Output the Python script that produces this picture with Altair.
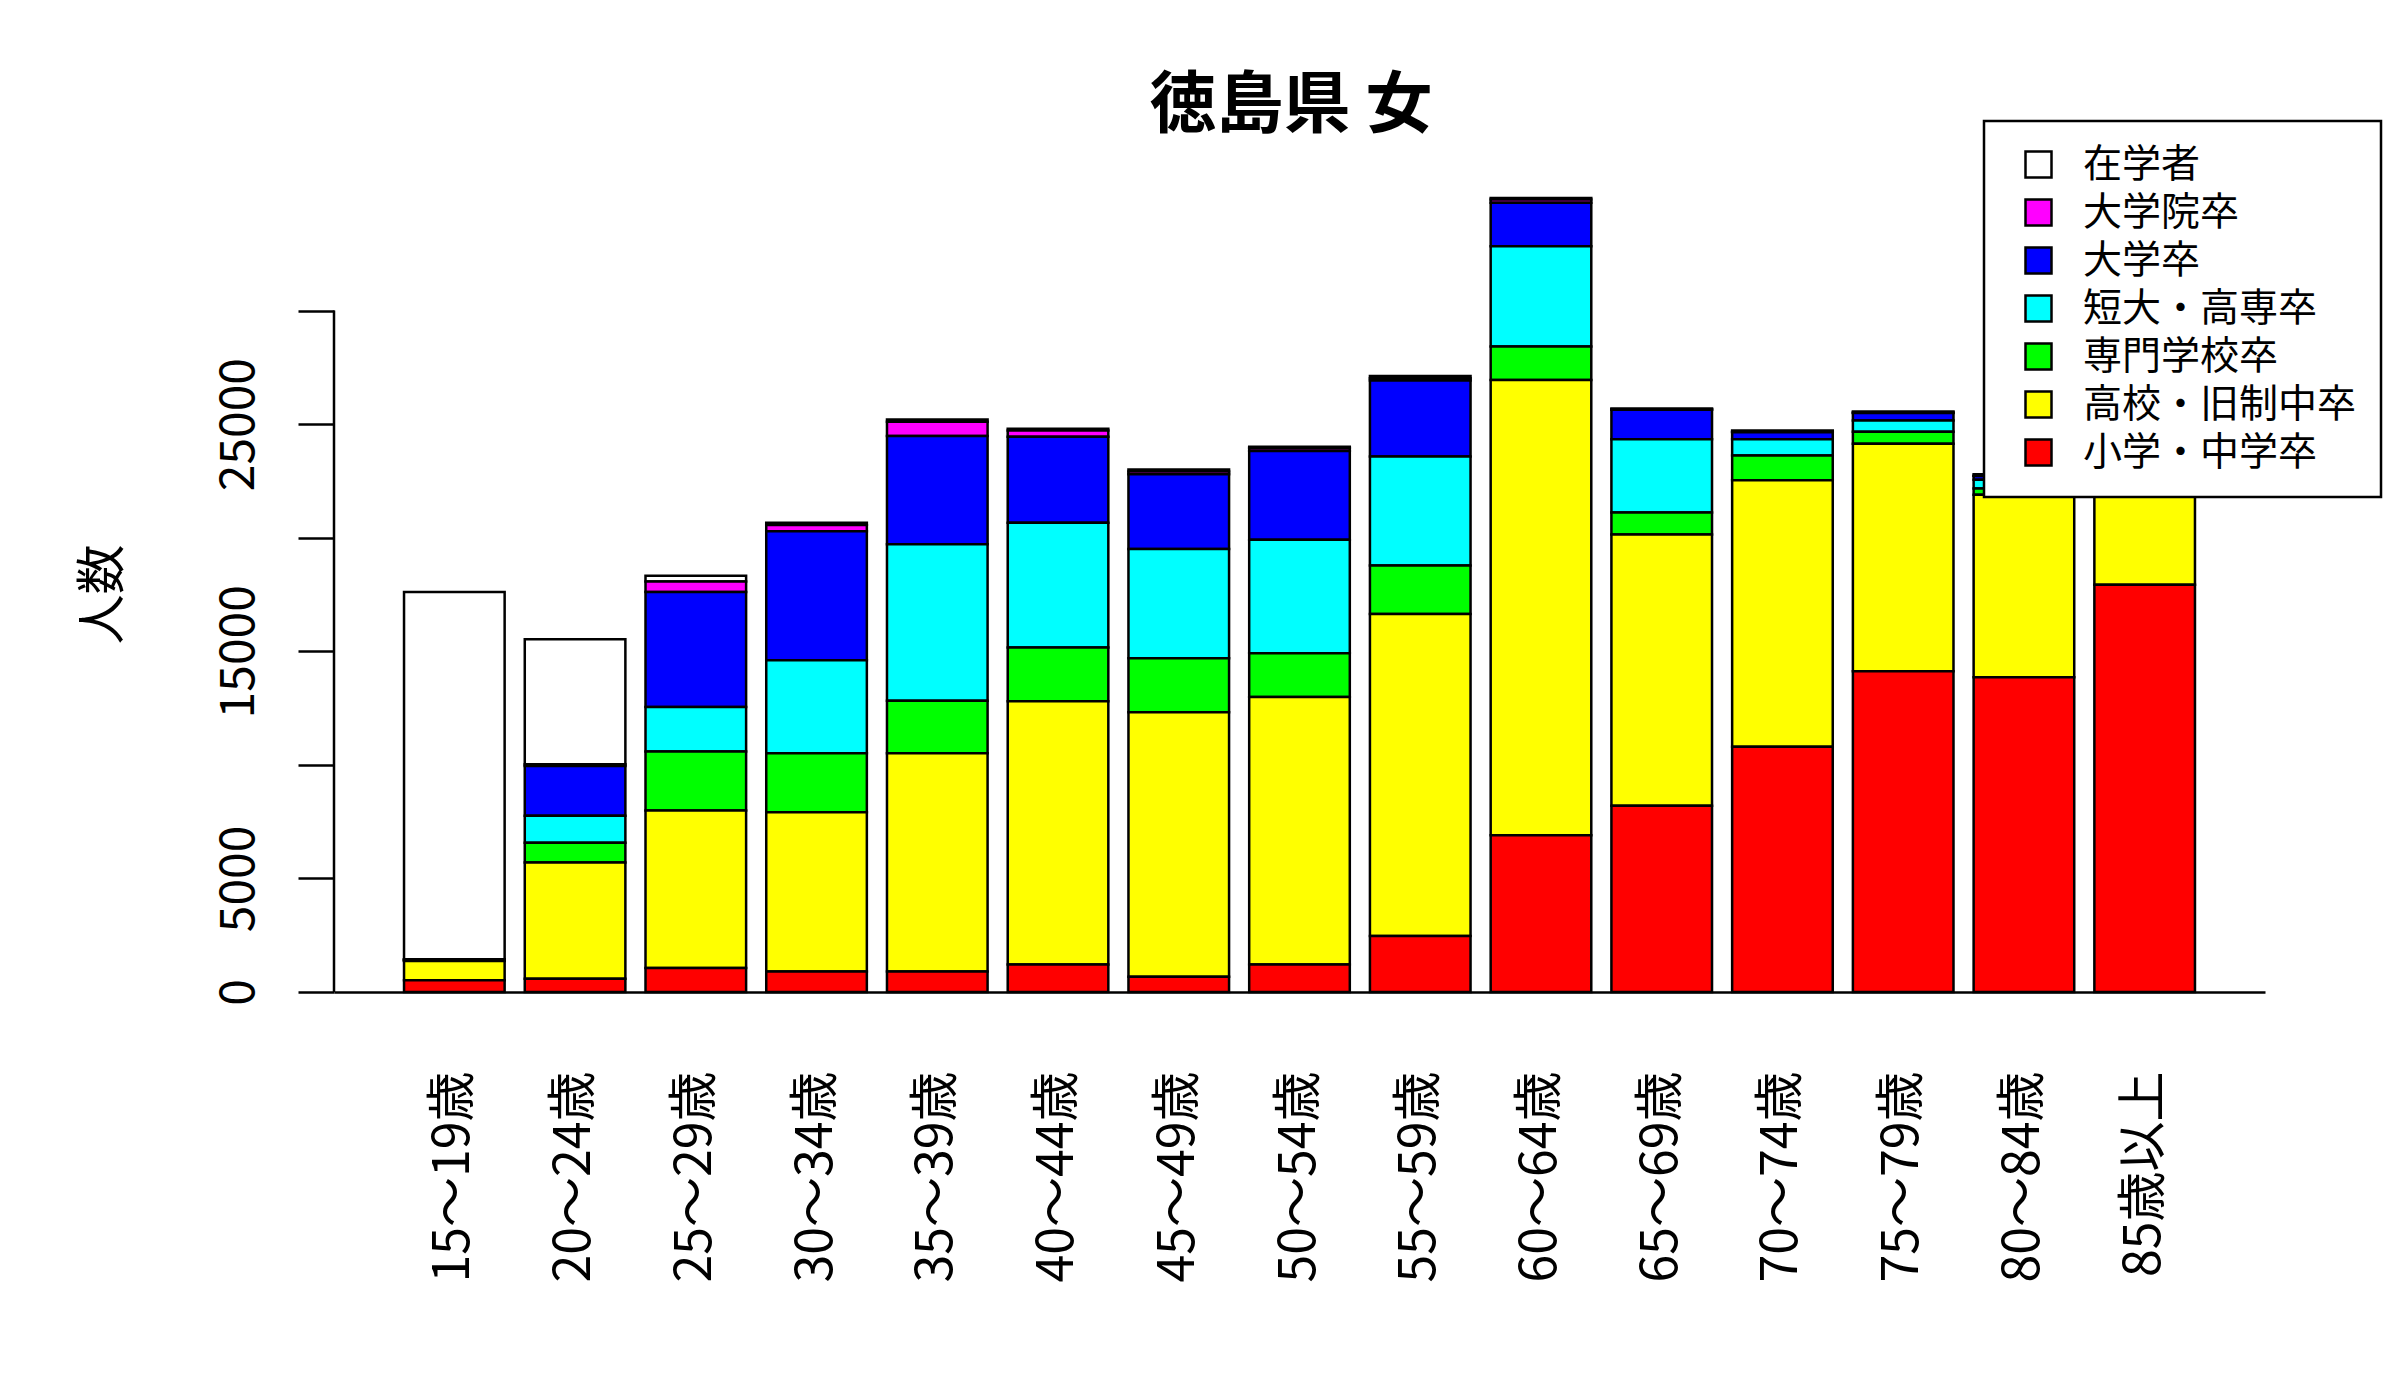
import altair as alt
import pandas as pd

FONT = "Noto Sans CJK JP"

chart_title = "徳島県 女"
y_title = "人数"

ages = ["15～19歳", "20～24歳", "25～29歳", "30～34歳", "35～39歳", "40～44歳",
        "45～49歳", "50～54歳", "55～59歳", "60～64歳", "65～69歳", "70～74歳",
        "75～79歳", "80～84歳", "85歳以上"]

series_names = ["在学者", "大学院卒", "大学卒", "短大・高専卒", "専門学校卒", "高校・旧制中卒", "小学・中学卒"]
series_colors = ["#FFFFFF", "#FF00FF", "#0000FF", "#00FFFF", "#00FF00", "#FFFF00", "#FF0000"]

zaigakusha = [16170, 5500, 250, 100, 100, 80, 80, 60, 100, 70, 30, 60, 50, 60, 0]
daigakuin = [5, 80, 460, 270, 620, 270, 130, 120, 100, 140, 30, 20, 20, 10, 10]
daigaku = [30, 2190, 5060, 5680, 4770, 3790, 3290, 3910, 3350, 1920, 1300, 310, 330, 170, 80]
tandai = [20, 1190, 1960, 4100, 6890, 5490, 4810, 5000, 4790, 4410, 3220, 710, 500, 380, 200]
senmon = [20, 870, 2600, 2600, 2310, 2370, 2370, 1920, 2140, 1480, 970, 1090, 520, 280, 150]
koukou = [850, 5120, 6930, 7010, 9610, 11590, 11650, 11780, 14170, 20040, 11940, 11730, 10020, 8030, 4600]
shochu = [520, 580, 1060, 900, 900, 1210, 670, 1210, 2470, 6900, 8200, 10800, 14120, 13860, 17930]

series_values = [zaigakusha, daigakuin, daigaku, tandai, senmon, koukou, shochu]

y_ticks = [0, 5000, 10000, 15000, 20000, 25000, 30000]
y_labels_shown = [0, 5000, 15000, 25000]

rows = []
for si, (name, vals) in enumerate(zip(series_names, series_values)):
    for age, v in zip(ages, vals):
        rows.append({"age": age, "series": name, "value": v, "ord": len(series_names) - 1 - si})
df = pd.DataFrame(rows)

y_scale = alt.Scale(domain=[0, 35000], nice=False)
y_axis = alt.Axis(
    values=y_ticks,
    labelExpr="indexof([" + ",".join(str(v) for v in y_labels_shown) + "], datum.value) >= 0 ? datum.value + '' : ''",
    domain=False,
    grid=False,
    ticks=True,
    tickSize=36,
    tickWidth=2.5,
    tickColor="black",
    labelAngle=270,
    labelAlign="center",
    labelBaseline="alphabetic",
    labelPadding=45,
    labelFontSize=48,
    labelColor="black",
    labelFont=FONT,
    title=y_title,
    titleFont=FONT,
    titleFontSize=50,
    titleFontWeight="normal",
    titleColor="black",
    titleAngle=270,
    titleAlign="center",
    titleBaseline="middle",
    titleX=-231,
    titleY=397,
)

bars = alt.Chart(df).mark_bar(stroke="black", strokeWidth=2.5).encode(
    x=alt.X("age:N", sort=ages,
            scale=alt.Scale(paddingInner=0.1667, paddingOuter=0.58),
            axis=alt.Axis(title=None, ticks=False, tickSize=0, domain=True,
                          domainColor="black", domainWidth=2.5,
                          labelAngle=270, labelAlign="right", labelBaseline="middle",
                          labelPadding=79, labelFontSize=50, labelFont=FONT,
                          labelColor="black", labelLimit=400)),
    y=alt.Y("value:Q", stack="zero", scale=y_scale, axis=y_axis),
    color=alt.Color("series:N",
                    scale=alt.Scale(domain=series_names, range=series_colors),
                    legend=alt.Legend(title=None, orient="none", legendX=1650, legendY=-76,
                                      zindex=1)),
    order=alt.Order("ord:Q", sort="ascending"),
)

axis_df = pd.DataFrame({"lo": [y_ticks[0]], "hi": [y_ticks[-1]]})
y_line = alt.Chart(axis_df).mark_rule(color="black", strokeWidth=2.5).encode(
    x=alt.value(0),
    y=alt.Y("lo:Q", scale=y_scale, axis=y_axis),
    y2="hi:Q",
)

title_df = pd.DataFrame({"t": [chart_title]})
title_mark = alt.Chart(title_df).mark_text(
    font=FONT, fontSize=67, fontWeight="bold", align="center", baseline="middle", color="black"
).encode(
    x=alt.value(957),
    y=alt.value(-90),
    text="t:N",
)

chart = alt.layer(bars, y_line, title_mark).properties(
    width=1931,
    height=795,
    autosize=alt.AutoSizeParams(type="none"),
    padding={"left": 326, "top": 189, "right": 120, "bottom": 390},
).configure(
    font=FONT
).configure_view(
    stroke=None
).configure_legend(
    fillColor="white",
    strokeColor="black",
    strokeWidth=2.5,
    padding=24,
    symbolType="square",
    symbolSize=676,
    symbolStrokeColor="black",
    symbolStrokeWidth=2.5,
    symbolOffset=11,
    labelOffset=25,
    labelFontSize=39,
    labelFont=FONT,
    labelColor="black",
    rowPadding=8,
    labelLimit=400,
)

chart.save("out.html", embed_options={"renderer": "svg", "actions": False})
